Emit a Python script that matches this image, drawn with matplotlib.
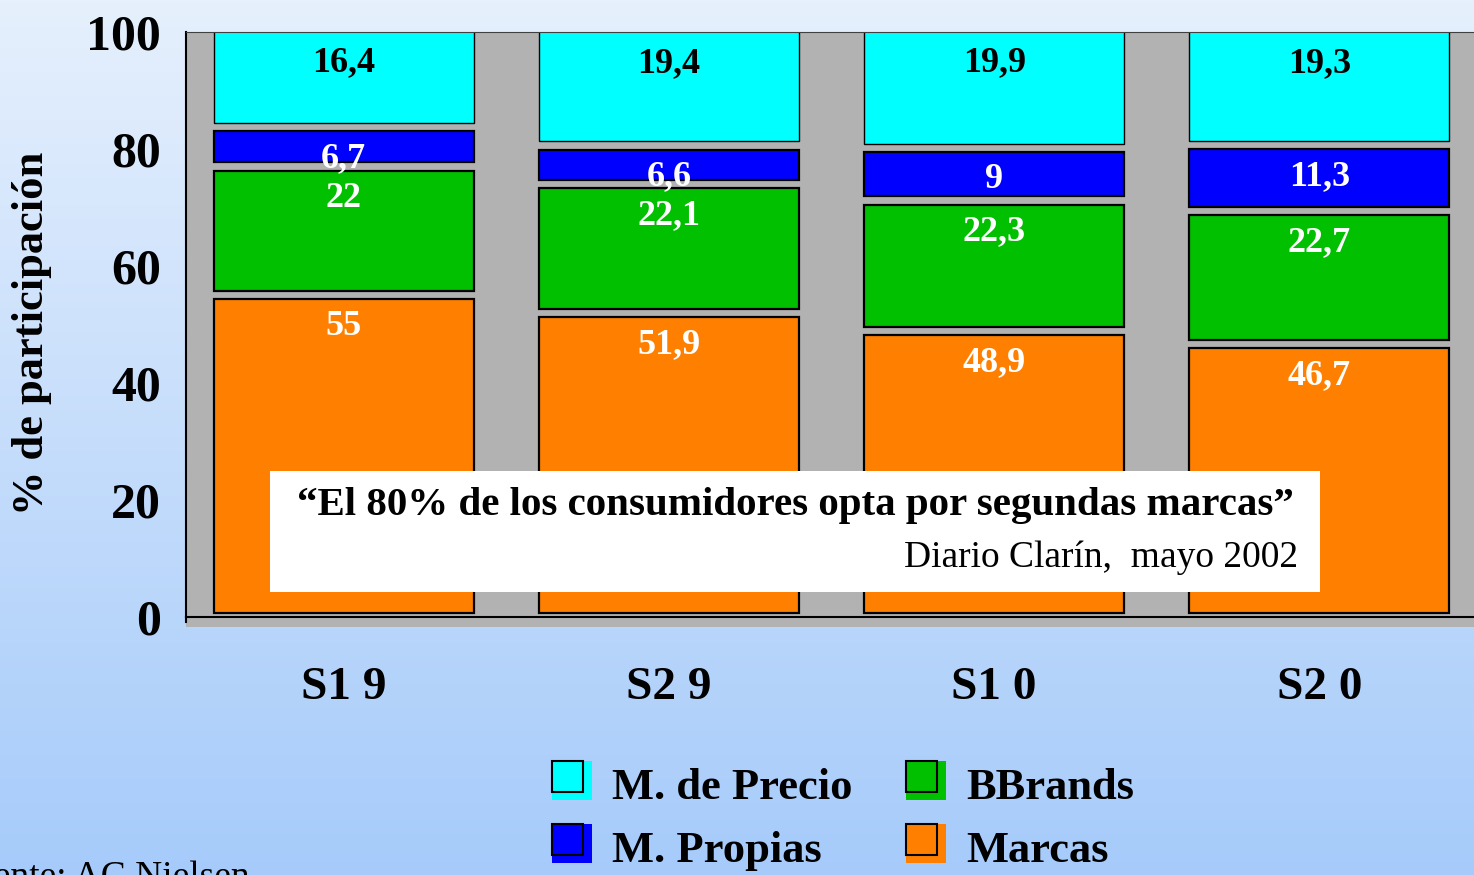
import numpy as np
import matplotlib
matplotlib.use("Agg")
import matplotlib.pyplot as plt
from matplotlib.patches import Rectangle
from matplotlib.colors import LinearSegmentedColormap

# data
categories = ["S1 9", "S2 9", "S1 0", "S2 0"]
series_names = ["Marcas", "BBrands", "M. Propias", "M. de Precio"]
marcas = [55, 51.9, 48.9, 46.7]
bbrands = [22, 22.1, 22.3, 22.7]
propias = [6.7, 6.6, 9, 11.3]
precio = [16.4, 19.4, 19.9, 19.3]
labels_marcas = ["55", "51,9", "48,9", "46,7"]
labels_bbrands = ["22", "22,1", "22,3", "22,7"]
labels_propias = ["6,7", "6,6", "9", "11,3"]
labels_precio = ["16,4", "19,4", "19,9", "19,3"]

colors = ["#ff8000", "#00c000", "#0000ff", "#00ffff"]
text_colors = ["white", "white", "white", "black"]
serif = ["Liberation Serif", "DejaVu Serif"]

fig = plt.figure(figsize=(14.74, 8.75), dpi=100)

# background gradient
bg = fig.add_axes([0, 0, 1, 1], zorder=-10)
grad = np.linspace(0, 1, 256).reshape(-1, 1)
cmap = LinearSegmentedColormap.from_list("bg", ["#e6f0fd", "#a6cbfa"])
bg.imshow(grad, aspect="auto", cmap=cmap, extent=[0, 1, 0, 1], origin="upper")
bg.set_axis_off()

ax = fig.add_axes([186 / 1474, 1 - 617 / 875, 1 - 186 / 1474 + 0.001, (617 - 32) / 875])
ax.set_facecolor("#b2b2b2")
ax.set_xlim(-0.485, 3.48)
ax.set_ylim(0, 100)

x = np.arange(len(categories))
gap = 0.7
stack = [marcas, bbrands, propias, precio]
stack_labels = [labels_marcas, labels_bbrands, labels_propias, labels_precio]
bottom = np.zeros(len(categories))
for k, vals in enumerate(stack):
    vals = np.array(vals, dtype=float)
    h = vals - 2 * gap if k < len(stack) - 1 else vals + gap
    ax.bar(x, h, bottom=bottom + gap, width=0.8, color=colors[k],
           edgecolor="black", linewidth=1.6 if k < 3 else 1.0, zorder=2)
    top = bottom + vals
    for i in range(len(x)):
        ax.text(x[i], top[i] - gap - 4.7, stack_labels[k][i], ha="center", va="center",
                color=text_colors[k], fontsize=26, fontweight="bold", family=serif, zorder=5)
    bottom = top

ax.set_yticks([0, 20, 40, 60, 80, 100])
ax.set_yticklabels(["0", "20", "40", "60", "80", "100"], fontsize=36, fontweight="bold", family=serif)
ax.set_xticks(x)
ax.set_xticklabels(categories, fontsize=34, fontweight="bold", family=serif)
ax.tick_params(axis="y", length=0, pad=18)
ax.tick_params(axis="x", length=0, pad=36)
for s in ["left", "bottom"]:
    ax.spines[s].set_color("black")
    ax.spines[s].set_linewidth(1.5)
ax.spines["top"].set_color("#404040")
ax.spines["right"].set_visible(False)

# floor band under the axis
ax.add_patch(Rectangle((0, -10 / 585), 1, 10 / 585, transform=ax.transAxes,
                       facecolor="#b2b2b2", edgecolor="none", clip_on=False, zorder=1))
ax.plot([0, 0], [-5 / 585, 0], transform=ax.transAxes, color="black", lw=1.5, clip_on=False)

ax.set_ylabel("% de participación", fontsize=32, fontweight="bold", family=serif)
ax.yaxis.set_label_coords(-0.104, 0.485)

# quote box
fig.patches.append(Rectangle((270 / 1474, 1 - 592 / 875), 1050 / 1474, 121 / 875,
                             transform=fig.transFigure, facecolor="white", edgecolor="none", zorder=3))
fig.text(795 / 1474, 1 - 506 / 875, "\u201cEl 80% de los consumidores opta por segundas marcas\u201d",
         ha="center", va="center", fontsize=29.5, fontweight="bold", family=serif, zorder=4)
fig.text(1298 / 1474, 1 - 558 / 875, "Diario Clarín,  mayo 2002",
         ha="right", va="center", fontsize=27, family=serif, zorder=4)

# legend
legend_items = [("M. de Precio", colors[3], 552, 761), ("BBrands", colors[1], 906, 761),
                ("M. Propias", colors[2], 552, 824), ("Marcas", colors[0], 906, 824)]
for name, col, lx, ly in legend_items:
    fig.patches.append(Rectangle((lx / 1474, 1 - (ly + 39) / 875), 40 / 1474, 39 / 875,
                                 transform=fig.transFigure, facecolor=col, edgecolor="none"))
    fig.patches.append(Rectangle((lx / 1474, 1 - (ly + 31) / 875), 31 / 1474, 31 / 875,
                                 transform=fig.transFigure, facecolor="none", edgecolor="black", lw=1.5))
    fig.text((lx + 60) / 1474, 1 - (ly + 27) / 875, name, ha="left", va="center",
             fontsize=32, fontweight="bold", family=serif)

fig.text(250 / 1474, -12 / 875, "Fuente: AC Nielsen", ha="right", va="baseline",
         fontsize=27, family=serif)

fig.savefig("out.png", dpi=100)
